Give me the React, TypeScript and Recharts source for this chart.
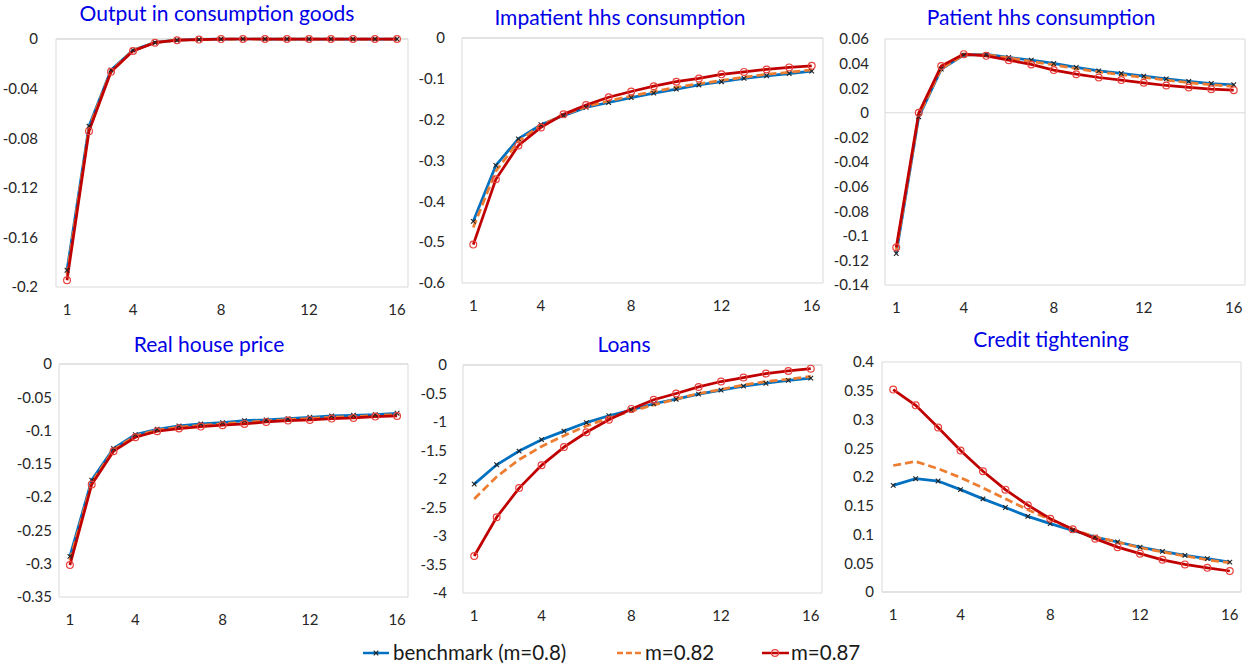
import React from 'react';
import { LineChart, Line, XAxis, YAxis, ReferenceArea, ReferenceLine } from 'recharts';

// ---------- data ----------
const periods = [1, 2, 3, 4, 5, 6, 7, 8, 9, 10, 11, 12, 13, 14, 15, 16];
const xTicks = [1, 4, 8, 12, 16];
const seriesNames = ['benchmark (m=0.8)', 'm=0.82', 'm=0.87'];

const outputBench = [-0.1865, -0.0703, -0.025, -0.009, -0.0028, -0.001, -0.0004, -0.0001, 0, 0, 0, 0, 0, 0, 0, 0];
const outputM82 = [-0.19, -0.072, -0.0257, -0.0093, -0.0029, -0.001, -0.0005, -0.0001, 0, 0, 0, 0, 0, 0, 0, 0];
const outputM87 = [-0.1946, -0.0743, -0.0264, -0.0097, -0.003, -0.001, -0.0005, -0.0001, 0, 0, 0, 0, 0, 0, 0, 0];

const impBench = [-0.449, -0.312, -0.247, -0.2125, -0.19, -0.17, -0.158, -0.146, -0.135, -0.125, -0.115, -0.107, -0.099, -0.0925, -0.087, -0.081];
const impM82 = [-0.464, -0.326, -0.253, -0.214, -0.188, -0.168, -0.154, -0.142, -0.131, -0.121, -0.112, -0.104, -0.096, -0.089, -0.084, -0.078];
const impM87 = [-0.506, -0.346, -0.263, -0.219, -0.187, -0.164, -0.145, -0.131, -0.118, -0.107, -0.099, -0.089, -0.083, -0.077, -0.072, -0.068];

const patBench = [-0.1144, -0.0033, 0.0355, 0.0469, 0.0474, 0.045, 0.0428, 0.0401, 0.0369, 0.0341, 0.032, 0.0298, 0.0276, 0.0255, 0.0238, 0.0228];
const patM82 = [-0.112, -0.002, 0.036, 0.047, 0.0472, 0.0446, 0.0418, 0.039, 0.036, 0.0332, 0.031, 0.0288, 0.0266, 0.0245, 0.0228, 0.0215];
const patM87 = [-0.1095, 0.0, 0.038, 0.0477, 0.0463, 0.0428, 0.0393, 0.0347, 0.0314, 0.0287, 0.0266, 0.0244, 0.0222, 0.0206, 0.0192, 0.0184];

const houseBench = [-0.289, -0.1745, -0.127, -0.106, -0.098, -0.093, -0.09, -0.088, -0.085, -0.084, -0.082, -0.08, -0.078, -0.077, -0.076, -0.074];
const houseM82 = [-0.295, -0.178, -0.129, -0.108, -0.0995, -0.095, -0.092, -0.09, -0.0875, -0.0855, -0.0835, -0.082, -0.08, -0.079, -0.0775, -0.076];
const houseM87 = [-0.302, -0.181, -0.131, -0.11, -0.101, -0.097, -0.094, -0.092, -0.09, -0.087, -0.085, -0.084, -0.082, -0.081, -0.079, -0.078];

const loansBench = [-2.09, -1.75, -1.51, -1.31, -1.16, -1.01, -0.89, -0.79, -0.68, -0.6, -0.51, -0.44, -0.37, -0.32, -0.27, -0.23];
const loansM82 = [-2.35, -1.96, -1.66, -1.43, -1.24, -1.07, -0.93, -0.81, -0.7, -0.6, -0.5, -0.43, -0.35, -0.29, -0.25, -0.2];
const loansM87 = [-3.35, -2.67, -2.16, -1.76, -1.44, -1.18, -0.96, -0.77, -0.61, -0.5, -0.385, -0.29, -0.22, -0.15, -0.105, -0.064];

const creditBench = [0.1855, 0.197, 0.193, 0.178, 0.162, 0.147, 0.1316, 0.119, 0.107, 0.0957, 0.087, 0.078, 0.0707, 0.0638, 0.058, 0.052];
const creditM82 = [0.22, 0.227, 0.2145, 0.199, 0.181, 0.162, 0.143, 0.126, 0.109, 0.0957, 0.087, 0.077, 0.0696, 0.0626, 0.056, 0.051];
const creditM87 = [0.352, 0.3246, 0.286, 0.246, 0.21, 0.178, 0.151, 0.1275, 0.109, 0.0928, 0.078, 0.0667, 0.056, 0.048, 0.042, 0.0365];

const outputTicks = [0, -0.04, -0.08, -0.12, -0.16, -0.2];
const impTicks = [0, -0.1, -0.2, -0.3, -0.4, -0.5, -0.6];
const patTicks = [0.06, 0.04, 0.02, 0, -0.02, -0.04, -0.06, -0.08, -0.1, -0.12, -0.14];
const houseTicks = [0, -0.05, -0.1, -0.15, -0.2, -0.25, -0.3, -0.35];
const loansTicks = [0, -0.5, -1, -1.5, -2, -2.5, -3, -3.5, -4];
const creditTicks = [0.4, 0.35, 0.3, 0.25, 0.2, 0.15, 0.1, 0.05, 0];

// ---------- styles ----------
const BLUE = '#0070C0';
const ORANGE = '#ED7D31';
const RED = '#C00000';
const TITLE = '#0000E6';
const FONT = 'Lato, "Open Sans", sans-serif';

const panels = [
  { title: 'Output in consumption goods', b: outputBench, o: outputM82, r: outputM87, ticks: outputTicks, domain: [-0.2, 0], box: [56, 408, 39, 287], gap: 18, tx: 217, ty: 21 },
  { title: 'Impatient hhs consumption', b: impBench, o: impM82, r: impM87, ticks: impTicks, domain: [-0.6, 0], box: [462, 823, 38, 283], gap: 17, tx: 620, ty: 25 },
  { title: 'Patient hhs consumption', b: patBench, o: patM82, r: patM87, ticks: patTicks, domain: [-0.14, 0.06], box: [885, 1245, 39, 285], gap: 16, tx: 1041, ty: 25 },
  { title: 'Real house price', b: houseBench, o: houseM82, r: houseM87, ticks: houseTicks, domain: [-0.35, 0], box: [59, 408, 364, 597], gap: 7, tx: 209, ty: 352 },
  { title: 'Loans', b: loansBench, o: loansM82, r: loansM87, ticks: loansTicks, domain: [-4, 0], box: [463, 822, 365, 593], gap: 16, tx: 624, ty: 352 },
  { title: 'Credit tightening', b: creditBench, o: creditM82, r: creditM87, ticks: creditTicks, domain: [0, 0.4], box: [882, 1241, 362, 592], gap: 8, tx: 1051, ty: 347 },
];

const XDot = (props: any) => {
  const { cx, cy } = props;
  if (cx == null || cy == null) return <g />;
  const s = 2.3;
  return (
    <g>
      <line x1={cx - s} y1={cy - s} x2={cx + s} y2={cy + s} stroke="#222" strokeWidth={1.1} />
      <line x1={cx - s} y1={cy + s} x2={cx + s} y2={cy - s} stroke="#222" strokeWidth={1.1} />
    </g>
  );
};

const CircleDot = (props: any) => {
  const { cx, cy } = props;
  if (cx == null || cy == null) return <g />;
  return <circle cx={cx} cy={cy} r={3.4} fill="none" stroke="#E8413C" strokeWidth={1.2} />;
};

const YW = 60;
const MT = 10;
const MR = 5;
const XH = 40;

function Panel({ p }: { p: any }) {
  const [x0, x1, y0, y1] = p.box;
  const width = x1 - x0 + YW + MR;
  const height = y1 - y0 + MT + XH;
  const data = periods.map((t, i) => ({ t, bench: p.b[i], m82: p.o[i], m87: p.r[i] }));
  const tickStyle = { fontFamily: FONT, fontSize: 15, fill: '#262626' };
  return (
    <div style={{ position: 'absolute', left: x0 - YW, top: y0 - MT, width, height }}>
      <LineChart width={width} height={height} data={data} margin={{ top: MT, right: MR, bottom: 0, left: 0 }}>
        <XAxis
          dataKey="t"
          type="number"
          domain={[0.5, 16.5]}
          ticks={xTicks}
          interval={0}
          axisLine={false}
          tickLine={false}
          tickSize={0}
          tickMargin={17}
          height={XH}
          tick={tickStyle}
        />
        <YAxis
          type="number"
          domain={p.domain}
          ticks={p.ticks}
          interval={0}
          axisLine={false}
          tickLine={false}
          tickSize={0}
          tickMargin={p.gap}
          width={YW}
          tick={tickStyle}
        />
        <ReferenceArea x1={0.5} x2={16.5} y1={p.domain[0]} y2={p.domain[1]} fill="none" stroke="#D9D9D9" strokeWidth={1} />
        <ReferenceLine y={0} stroke="#D9D9D9" strokeWidth={1} />
        <Line dataKey="bench" name={seriesNames[0]} stroke={BLUE} strokeWidth={2.75} dot={<XDot />} isAnimationActive={false} />
        <Line dataKey="m82" name={seriesNames[1]} stroke={ORANGE} strokeWidth={2.75} strokeDasharray="8 4" dot={false} isAnimationActive={false} />
        <Line dataKey="m87" name={seriesNames[2]} stroke={RED} strokeWidth={2.75} dot={<CircleDot />} isAnimationActive={false} />
      </LineChart>
    </div>
  );
}

export default function App() {
  return (
    <div style={{ position: 'absolute', left: 0, top: 0, width: 1246, height: 667, background: '#fff', overflow: 'hidden' }}>
      {panels.map((p, i) => (
        <Panel key={i} p={p} />
      ))}
      <svg width={1246} height={667} style={{ position: 'absolute', left: 0, top: 0, pointerEvents: 'none' }}>
        {panels.map((p, i) => (
          <text key={i} x={p.tx} y={p.ty} textAnchor="middle" fontFamily={FONT} fontSize={21} fill={TITLE}>
            {p.title}
          </text>
        ))}
        <g fontFamily={FONT} fontSize={20.5} fill="#1a1a1a">
          <line x1={363} y1={653} x2={389} y2={653} stroke={BLUE} strokeWidth={2.5} />
          <XDot cx={376} cy={653} />
          <text x={393} y={660}>{seriesNames[0]}</text>
          <line x1={617} y1={653} x2={642} y2={653} stroke={ORANGE} strokeWidth={2.5} strokeDasharray="6 3" />
          <text x={645} y={660}>{seriesNames[1]}</text>
          <line x1={762} y1={653} x2={789} y2={653} stroke={RED} strokeWidth={2.5} />
          <CircleDot cx={775} cy={653} />
          <text x={791} y={660}>{seriesNames[2]}</text>
        </g>
      </svg>
    </div>
  );
}
